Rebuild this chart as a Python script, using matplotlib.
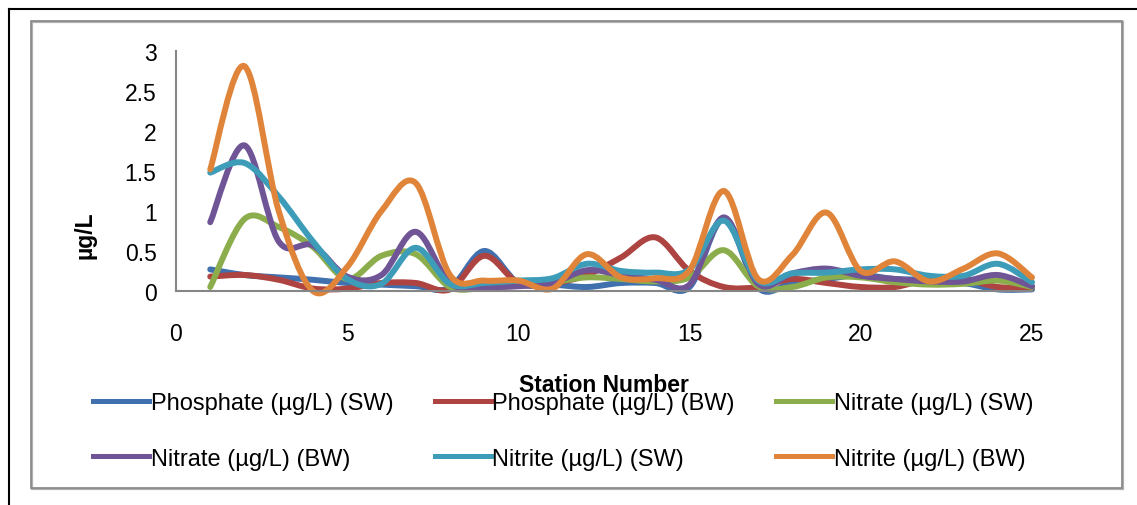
import numpy as np
import matplotlib
matplotlib.use("Agg")
import matplotlib.pyplot as plt
from matplotlib.path import Path
from matplotlib.patches import PathPatch, Rectangle
from matplotlib.lines import Line2D

plt.rcParams['font.family'] = ['Liberation Sans', 'DejaVu Sans']

# Station numbers and values (µg/L)
stations = list(range(1, 26))
phosphate_sw = [0.27, 0.20, 0.17, 0.14, 0.10, 0.08, 0.06, 0.04, 0.50, 0.10, 0.08, 0.05, 0.10,
                0.10, 0.05, 0.90, 0.04, 0.10, 0.15, 0.20, 0.15, 0.14, 0.10, 0.02, 0.02]
phosphate_bw = [0.18, 0.20, 0.14, 0.03, 0.03, 0.10, 0.10, 0.02, 0.44, 0.10, 0.10, 0.20, 0.42,
                0.67, 0.25, 0.05, 0.05, 0.15, 0.10, 0.05, 0.05, 0.15, 0.15, 0.05, 0.05]
nitrate_sw = [0.05, 0.90, 0.80, 0.55, 0.15, 0.44, 0.46, 0.05, 0.04, 0.07, 0.11, 0.17, 0.15,
              0.12, 0.17, 0.51, 0.06, 0.05, 0.17, 0.17, 0.11, 0.08, 0.09, 0.13, 0.05]
nitrate_bw = [0.86, 1.82, 0.62, 0.57, 0.18, 0.20, 0.74, 0.10, 0.05, 0.06, 0.10, 0.26, 0.20,
              0.14, 0.08, 0.92, 0.09, 0.22, 0.28, 0.19, 0.15, 0.12, 0.12, 0.20, 0.06]
nitrite_sw = [1.48, 1.60, 1.18, 0.62, 0.15, 0.09, 0.54, 0.09, 0.10, 0.13, 0.16, 0.34, 0.25,
              0.23, 0.27, 0.88, 0.13, 0.22, 0.23, 0.27, 0.27, 0.19, 0.19, 0.34, 0.11]
nitrite_bw = [1.52, 2.81, 1.00, 0.00, 0.30, 1.00, 1.35, 0.20, 0.13, 0.13, 0.03, 0.46, 0.17,
              0.16, 0.26, 1.25, 0.15, 0.45, 0.98, 0.25, 0.37, 0.12, 0.28, 0.47, 0.17]

series = [
    ("Phosphate (µg/L) (SW)", phosphate_sw, "#4070AE"),
    ("Phosphate (µg/L) (BW)", phosphate_bw, "#AE4441"),
    ("Nitrate (µg/L) (SW)", nitrate_sw, "#8BAD4C"),
    ("Nitrate (µg/L) (BW)", nitrate_bw, "#6F5596"),
    ("Nitrite (µg/L) (SW)", nitrite_sw, "#3D9DB8"),
    ("Nitrite (µg/L) (BW)", nitrite_bw, "#E0843A"),
]


def smooth_path(xs, ys):
    # smoothed line like the spreadsheet one: bezier segments through each point
    xs = np.asarray(xs, float)
    ys = np.asarray(ys, float)
    n = len(xs)
    verts = [(xs[0], ys[0])]
    codes = [Path.MOVETO]
    for i in range(n - 1):
        i0 = max(i - 1, 0)
        i3 = min(i + 2, n - 1)
        c1 = (xs[i] + (xs[i + 1] - xs[i0]) / 6, ys[i] + (ys[i + 1] - ys[i0]) / 6)
        c2 = (xs[i + 1] - (xs[i3] - xs[i]) / 6, ys[i + 1] - (ys[i3] - ys[i]) / 6)
        verts += [c1, c2, (xs[i + 1], ys[i + 1])]
        codes += [Path.CURVE4] * 3
    return Path(verts, codes)


W, H = 1137, 506
fig = plt.figure(figsize=(W / 100, H / 100), dpi=100)

# outer black border and inner grey chart frame
fig.add_artist(Line2D([9 / W, 9 / W], [0, 1 - 10 / H], color="black", lw=1.5))
fig.add_artist(Line2D([9 / W, 1], [1 - 10 / H, 1 - 10 / H], color="black", lw=1.5))
fig.add_artist(Rectangle((32 / W, 1 - 490 / H), 1091 / W, 467 / H, fill=False,
                         edgecolor="#b0b0b0", lw=1.6))
fig.add_artist(Rectangle((31 / W, 1 - 489 / H), 1091 / W, 467 / H, fill=False,
                         edgecolor="#868686", lw=1.2))

ax = fig.add_axes([176 / W, 1 - 292 / H, (1032 - 176) / W, (292 - 52) / H])

handles = []
for label, values, color in series:
    patch = PathPatch(smooth_path(stations, values), fill=False, edgecolor=color,
                      lw=4.3, capstyle="round", joinstyle="round", clip_on=False)
    ax.add_patch(patch)
    handles.append(Line2D([], [], color=color, lw=3.6, label=label))

ax.set_xlim(0, 25)
ax.set_ylim(0, 3)
ax.set_xticks([0, 5, 10, 15, 20, 25])
ax.set_yticks([0, 0.5, 1, 1.5, 2, 2.5, 3])
ax.set_yticklabels(["0", "0.5", "1", "1.5", "2", "2.5", "3"])
ax.tick_params(axis="both", length=0, labelsize=16.5)
ax.tick_params(axis="y", pad=14)
ax.tick_params(axis="x", pad=22)
for side in ["top", "right"]:
    ax.spines[side].set_visible(False)
for side in ["left", "bottom"]:
    ax.spines[side].set_color("#868686")
    ax.spines[side].set_linewidth(1.5)

fig.text(85 / W, 1 - 235 / H, "µg/L", rotation=90, ha="center", va="center",
         fontsize=16.5, fontweight="bold")
fig.text(604 / W, 1 - 385 / H, "Station Number", ha="center", va="center",
         fontsize=16.5, fontweight="bold")

# legend fills column by column, so reorder to get row-wise entries
order = [0, 3, 1, 4, 2, 5]
fig.legend([handles[i] for i in order], [handles[i].get_label() for i in order],
           loc="center left", bbox_to_anchor=(81 / W, 1 - 432 / H), ncol=3, frameon=False,
           fontsize=17, handlelength=2.37, handletextpad=0.08, columnspacing=1.75,
           labelspacing=1.40, borderpad=0)

fig.savefig("out.png", dpi=100)
